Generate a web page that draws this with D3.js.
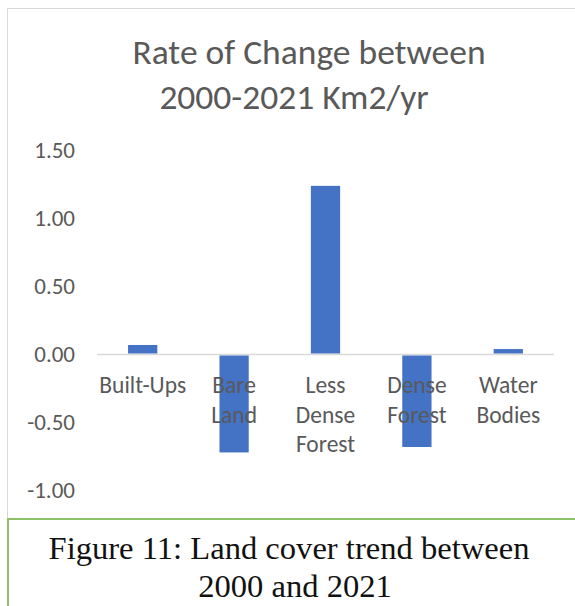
<!DOCTYPE html>
<html>
<head>
<meta charset="utf-8">
<script src="https://cdn.jsdelivr.net/npm/d3@7"></script>
<style>
    body { margin: 0; background: #fff; }
</style>
</head>
<body>
<div id="chart"></div>
<script>
//Chart data
var categories = [["Built-Ups"], ["Bare", "Land"], ["Less", "Dense", "Forest"], ["Dense", "Forest"], ["Water", "Bodies"]];
var rates = [0.07, -0.72, 1.24, -0.68, 0.04];
var tickValues = [-1.00, -0.50, 0.00, 0.50, 1.00, 1.50];
var titleLines = ["Rate of Change between", "2000-2021 Km2/yr"];
var captionLines = ["Figure 11: Land cover trend between", "2000 and 2021"];

var width = 575,
    height = 606;

var sans = "Carlito, Calibri, 'Open Sans', sans-serif";

var svg = d3.select("#chart")
    .append("svg")
    .attr("width", width)
    .attr("height", height);

//Chart area border (light grey) and caption box (green)
svg.append("rect")
    .attr("x", 7.5)
    .attr("y", 8.5)
    .attr("width", 700)
    .attr("height", 510)
    .attr("fill", "#fff")
    .attr("stroke", "#d9d9d9")
    .attr("stroke-width", 1);

svg.append("rect")
    .attr("x", 8)
    .attr("y", 519)
    .attr("width", 700)
    .attr("height", 200)
    .attr("fill", "#fff")
    .attr("stroke", "#8cc168")
    .attr("stroke-width", 2);

//Title
var titleX = [309, 294];
svg.append("g")
    .selectAll("text")
    .data(titleLines)
    .enter().append("text")
    .attr("x", function(d, i) { return titleX[i]; })
    .attr("y", function(d, i) { return 64 + i * 45; })
    .attr("text-anchor", "middle")
    .attr("font-family", sans)
    .attr("font-size", "35.5px")
    .attr("fill", "#595959")
    .text(function(d) { return d; });

//Scales
var x = d3.scaleBand()
    .domain(d3.range(categories.length))
    .range([97, 554])
    .paddingInner(0.68)
    .paddingOuter(0.34);

var y = d3.scaleLinear()
    .domain([-1, 1.5])
    .range([490.5, 150.5]);

//Y axis labels only (no line, no ticks), plain hyphen as minus
var fmt = d3.formatLocale({decimal: ".", thousands: ",", grouping: [3], currency: ["", ""], minus: "-"}).format(".2f");

var yAxis = svg.append("g")
    .attr("transform", "translate(75,0)")
    .call(d3.axisLeft(y)
        .tickValues(tickValues)
        .tickSize(0)
        .tickPadding(0)
        .tickFormat(fmt));

yAxis.select(".domain").remove();
yAxis.selectAll("text")
    .attr("font-family", sans)
    .attr("font-size", "23px")
    .attr("fill", "#595959");

//Zero line
svg.append("line")
    .attr("x1", x.range()[0])
    .attr("x2", x.range()[1])
    .attr("y1", y(0))
    .attr("y2", y(0))
    .attr("stroke", "#d9d9d9")
    .attr("stroke-width", 1.5);

//Bars
svg.append("g")
    .selectAll("rect")
    .data(rates)
    .enter().append("rect")
    .attr("x", function(d, i) { return x(i); })
    .attr("width", x.bandwidth())
    .attr("y", function(d) { return d >= 0 ? y(d) : y(0) + 1; })
    .attr("height", function(d) { return d >= 0 ? y(0) - y(d) - 1 : y(d) - y(0) - 1; })
    .attr("fill", "#4472c4");

//Category labels, drawn over the bars like Excel does
var labels = svg.append("g")
    .selectAll("text")
    .data(categories)
    .enter().append("text")
    .attr("text-anchor", "middle")
    .attr("font-family", sans)
    .attr("font-size", "23.5px")
    .attr("fill", "#595959");

labels.selectAll("tspan")
    .data(function(d, i) { return d.map(function(t) { return {t: t, i: i}; }); })
    .enter().append("tspan")
    .attr("x", function(d) { return x(d.i) + x.bandwidth() / 2; })
    .attr("y", function(d, j) { return 393 + j * 29.5; })
    .text(function(d) { return d.t; });

//Figure caption
var captionX = [289, 295];
svg.append("g")
    .selectAll("text")
    .data(captionLines)
    .enter().append("text")
    .attr("x", function(d, i) { return captionX[i]; })
    .attr("y", function(d, i) { return 559 + i * 38; })
    .attr("text-anchor", "middle")
    .attr("font-family", "'Liberation Serif', 'Times New Roman', serif")
    .attr("font-size", "32.6px")
    .attr("fill", "#111")
    .text(function(d) { return d; });
</script>
</body>
</html>
